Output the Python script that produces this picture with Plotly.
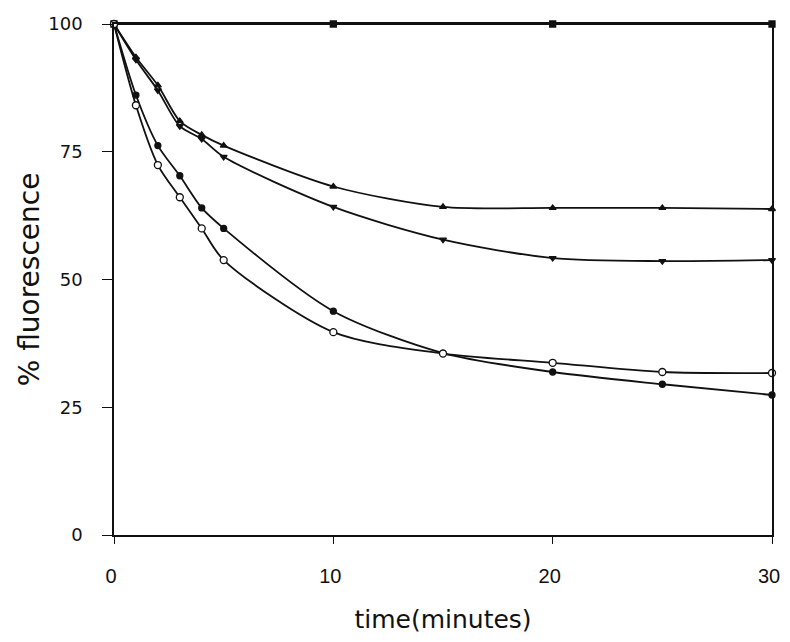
import plotly.graph_objects as go

# time points (minutes)
t_ctrl = [0, 10, 20, 30]
y_ctrl = [100, 100, 100, 100]

t = [0, 1, 2, 3, 4, 5, 10, 15, 20, 25, 30]
y_up_tri = [100, 93.5, 88.0, 81.0, 78.3, 76.2, 68.2, 64.2, 64.0, 64.0, 63.8]
y_down_tri = [100, 93.0, 87.0, 80.0, 77.5, 74.0, 64.2, 57.8, 54.2, 53.6, 53.8]
y_filled = [100, 86.1, 76.2, 70.3, 64.0, 60.0, 43.8, 35.6, 31.9, 29.5, 27.4]
y_open = [100, 84.1, 72.4, 66.1, 60.0, 53.8, 39.7, 35.5, 33.7, 31.9, 31.7]

x_ticks = [0, 10, 20, 30]
y_ticks = [0, 25, 50, 75, 100]

FONT = "Liberation Sans"
WIDE = "DejaVu Sans"
BLACK = "#111111"

fig = go.Figure()

def add_series(x, y, symbol, fill, size=7):
    fig.add_trace(go.Scatter(
        x=x, y=y, mode="lines+markers",
        line=dict(color=BLACK, width=1.8, shape="spline", smoothing=0.8),
        marker=dict(symbol=symbol, size=size, color=fill,
                    line=dict(color=BLACK, width=1.3)),
        cliponaxis=False, showlegend=False,
    ))

add_series(t_ctrl, y_ctrl, "square", BLACK, 6)
add_series(t, y_up_tri, "triangle-up", BLACK, 6)
add_series(t, y_down_tri, "triangle-down", BLACK, 6)
add_series(t, y_filled, "circle", BLACK, 6)
add_series(t, y_open, "circle", "white", 7)

fig.update_layout(
    width=782, height=626,
    margin=dict(l=106, r=18, t=16, b=99, autoexpand=False),
    paper_bgcolor="white", plot_bgcolor="white",
    font=dict(family=FONT, color=BLACK),
    xaxis=dict(
        range=[0, 30], tickvals=x_ticks, ticktext=[str(v) for v in x_ticks],
        automargin=False, ticklabeloverflow="allow",
        showgrid=False, zeroline=False,
        showline=True, linecolor=BLACK, linewidth=1.5, mirror=True,
        ticks="outside", ticklen=7, tickcolor=BLACK, tickwidth=1.2,
        tickfont=dict(size=20, family=FONT, color=BLACK),
        ticklabelstandoff=15, ticklabelshift=-3,
        title=dict(text="time(minutes)", font=dict(size=25, family=WIDE, color=BLACK),
                   standoff=27),
    ),
    yaxis=dict(
        range=[0, 100], tickvals=y_ticks, ticktext=[str(v) for v in y_ticks],
        automargin=False, ticklabeloverflow="allow",
        showgrid=False, zeroline=False,
        showline=True, linecolor=BLACK, linewidth=1.5, mirror=True,
        ticks="outside", ticklen=10, tickcolor=BLACK, tickwidth=1.2,
        tickfont=dict(size=18, family=WIDE, color=BLACK),
        ticklabelstandoff=16,
        title=dict(text="% fluorescence", font=dict(size=28, family=WIDE, color=BLACK),
                   standoff=0),
    ),
)

fig.write_html("out.html")
